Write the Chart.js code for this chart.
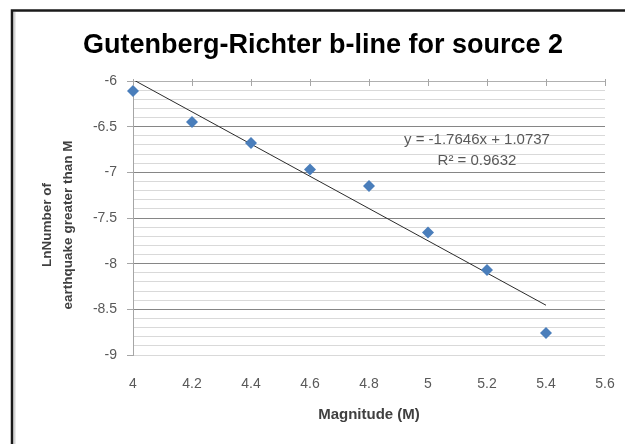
<!DOCTYPE html>
<html>
<head>
<meta charset="utf-8">
<script src="https://cdn.jsdelivr.net/npm/chart.js@4"></script>
<style>
html,body{margin:0;padding:0;background:#fff;}
#wrap{width:625px;height:444px;position:relative;}
</style>
</head>
<body>
<div id="wrap"><canvas id="c" width="625" height="444"></canvas></div>
<script>
// ---- data ----
const magnitudes = [4.0, 4.2, 4.4, 4.6, 4.8, 5.0, 5.2, 5.4];
const lnNumber   = [-6.11, -6.45, -6.68, -6.97, -7.15, -7.66, -8.07, -8.76];
const trendSlope = -1.7646;
const trendIntercept = 1.0737;
const trendR2 = 0.9632;
const chartTitle = 'Gutenberg-Richter b-line for source 2';
const xTitle = 'Magnitude (M)';
const yTitle = ['LnNumber of', 'earthquake greater than M'];
const xRange = {min: 4, max: 5.6, step: 0.2};
const yRange = {min: -9, max: -6, step: 0.1, labelStep: 0.5};

const FONT = "'Liberation Sans', Arial, sans-serif";
const points = magnitudes.map((x, i) => ({x: x, y: lnNumber[i]}));
const trendX = [magnitudes[0], magnitudes[magnitudes.length - 1]];
const trendPts = trendX.map(x => ({x: x, y: trendSlope * x + trendIntercept}));

function isMajorY(v) { return Math.abs(Math.round(v * 10) % 5) === 0; }

const framePlugin = {
  id: 'frame',
  afterDraw(chart) {
    const ctx = chart.ctx;
    ctx.save();
    ctx.strokeStyle = '#d4d4d4';
    ctx.lineWidth = 2;
    ctx.beginPath(); ctx.moveTo(14.5, 12); ctx.lineTo(14.5, 444); ctx.stroke();
    ctx.strokeStyle = '#1a1a1a';
    ctx.lineWidth = 2.5;
    ctx.beginPath();
    ctx.moveTo(12, 444); ctx.lineTo(12, 10.5); ctx.lineTo(625, 10.5);
    ctx.stroke();
    const xs = chart.scales.x, ys = chart.scales.y;
    // top axis tick marks (x axis crosses at top)
    const yTop = ys.getPixelForValue(yRange.max);
    ctx.strokeStyle = '#a6a6a6';
    ctx.lineWidth = 1;
    for (let v = xRange.min; v <= xRange.max + 1e-9; v += xRange.step) {
      const px = Math.round(xs.getPixelForValue(v)) + 0.5;
      ctx.beginPath(); ctx.moveTo(px, yTop - 2); ctx.lineTo(px, yTop + 5); ctx.stroke();
    }
    // y axis title (two lines, rotated)
    ctx.save();
    ctx.fillStyle = '#404040';
    ctx.font = "bold 13.5px " + FONT;
    ctx.textAlign = 'center';
    ctx.textBaseline = 'middle';
    ctx.translate(0, 225);
    ctx.rotate(-Math.PI / 2);
    ctx.fillText(yTitle[0], 0, 47.5);
    ctx.fillText(yTitle[1], 0, 68);
    ctx.restore();
    // trendline equation
    ctx.fillStyle = '#595959';
    ctx.font = "15px " + FONT;
    ctx.textAlign = 'center';
    ctx.textBaseline = 'middle';
    const sign = trendIntercept >= 0 ? ' + ' : ' - ';
    const cx = xs.getPixelForValue(5.166);
    ctx.fillText('y = ' + trendSlope.toFixed(4) + 'x' + sign + Math.abs(trendIntercept).toFixed(4),
      cx, ys.getPixelForValue(-6.646));
    ctx.fillText('R\u00b2 = ' + trendR2.toFixed(4), cx, ys.getPixelForValue(-6.876));
    ctx.restore();
  }
};

new Chart(document.getElementById('c'), {
  type: 'scatter',
  data: {
    datasets: [
      {
        label: 'data',
        data: points,
        pointStyle: 'rectRot',
        pointRadius: 6,
        pointHoverRadius: 6,
        backgroundColor: '#4a7ebb',
        borderColor: '#4a7ebb',
        borderWidth: 0,
        clip: false,
        order: 1
      },
      {
        label: 'trend',
        type: 'line',
        data: trendPts,
        borderColor: '#2b2b2b',
        borderWidth: 1,
        pointRadius: 0,
        fill: false,
        order: 2
      }
    ]
  },
  options: {
    responsive: false,
    animation: false,
    devicePixelRatio: 1,
    layout: {padding: {left: 41, right: 20, top: 0, bottom: 0}},
    plugins: {
      legend: {display: false},
      tooltip: {enabled: false},
      title: {
        display: true,
        text: chartTitle,
        color: '#000',
        font: {family: FONT, size: 27, weight: 'bold', lineHeight: 1.2},
        padding: {top: 29.5, bottom: 19.1}
      }
    },
    scales: {
      x: {
        type: 'linear',
        min: xRange.min, max: xRange.max,
        afterFit(scale) { scale.height = 89; scale.paddingRight = 0; },
        ticks: {
          stepSize: xRange.step,
          color: '#595959',
          font: {family: FONT, size: 14},
          padding: 13,
          callback: v => Number(v.toFixed(1)).toString()
        },
        grid: {display: false},
        border: {display: false},
        title: {
          display: true, text: xTitle, color: '#404040',
          font: {family: FONT, size: 15, weight: 'bold', lineHeight: 1.2},
          padding: {top: 0, bottom: 20}
        }
      },
      y: {
        type: 'linear',
        min: yRange.min, max: yRange.max,
        afterFit(scale) { scale.width = 92; },
        ticks: {
          stepSize: yRange.step,
          autoSkip: false,
          color: '#595959',
          font: {family: FONT, size: 14},
          padding: 10,
          callback: v => isMajorY(v) ? Number(v.toFixed(1)).toString() : ''
        },
        grid: {
          color: ctx => {
            const v = ctx.tick ? ctx.tick.value : 0;
            if (Math.abs(v - yRange.max) < 1e-6) return '#b0b0b0';
            if (Math.abs(v - yRange.min) < 1e-6) return '#d9d9d9';
            return isMajorY(v) ? '#868686' : '#d9d9d9';
          },
          tickColor: ctx => (ctx.tick && isMajorY(ctx.tick.value)) ? '#a6a6a6' : 'rgba(0,0,0,0)',
          tickLength: 6,
          lineWidth: 1
        },
        border: {display: true, color: '#a6a6a6', width: 1},
        title: {display: false}
      }
    }
  },
  plugins: [framePlugin]
});
</script>
</body>
</html>
